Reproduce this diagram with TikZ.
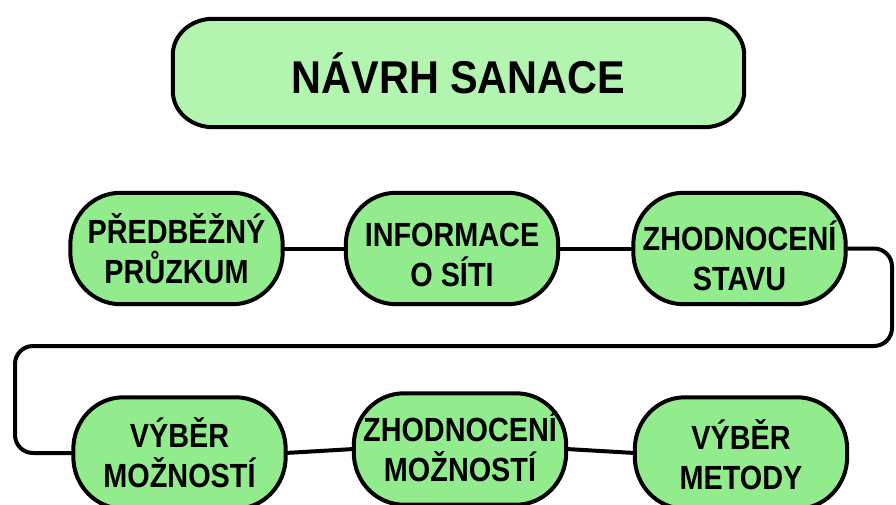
\documentclass[tikz,border=0pt]{standalone}
\usepackage{fontspec}
\usetikzlibrary{calc}
\newfontfamily\titlefont{Liberation Sans}[FakeStretch=0.9]
\newfontfamily\boxfont{Liberation Sans}[FakeStretch=0.86]
\definecolor{titlefill}{HTML}{B3F5B0}
\definecolor{boxfill}{HTML}{92EC8E}
\pgfdeclarelayer{background}
\pgfsetlayers{background,main}
% #1 node, #2 x radius, #3 y radius, #4 fill, #5 vertical offset of the outline
\newcommand\myroundbox[5]{%
  \begin{pgfonlayer}{background}
  \draw[line width=4pt, fill=#4] let \p1=([yshift=#5]#1.south west), \p2=([yshift=#5]#1.north east) in
    (\x1+#2,\y1) -- (\x2-#2,\y1) arc[start angle=-90,end angle=0,x radius=#2,y radius=#3]
    -- (\x2,\y2-#3) arc[start angle=0,end angle=90,x radius=#2,y radius=#3]
    -- (\x1+#2,\y2) arc[start angle=90,end angle=180,x radius=#2,y radius=#3]
    -- (\x1,\y1+#3) arc[start angle=180,end angle=270,x radius=#2,y radius=#3] -- cycle;
  \end{pgfonlayer}}
\begin{document}
\begin{tikzpicture}[x=1pt,y=1pt,
  stepbox/.style={minimum width=212pt, minimum height=111pt, align=center, inner sep=0pt,
    font=\boxfont\bfseries\fontsize{33.5}{40}\selectfont},
  titlebox/.style={minimum width=571pt, minimum height=108pt, align=center, inner sep=0pt,
    font=\titlefont\bfseries\fontsize{46}{50}\selectfont},
  link/.style={draw=black, line width=4pt}]
\clip (0,0) rectangle (896,504);
\begin{pgfonlayer}{background}
\fill[white] (0,0) rectangle (896,504);
\end{pgfonlayer}
\node[titlebox] (t) at (458.5,431) {NÁVRH SANACE};
\node[stepbox] (b1) at (176.5,255) {PŘEDBĚŽNÝ\\PRŮZKUM};
\node[stepbox] (b2) at (452,249) {INFORMACE\\O SÍTI};
\node[stepbox] (b3) at (739.5,248) {ZHODNOCENÍ\\STAVU};
\node[stepbox] (b4) at (179.5,51) {VÝBĚR\\MOŽNOSTÍ};
\node[stepbox] (b5) at (460,57) {ZHODNOCENÍ\\MOŽNOSTÍ};
\node[stepbox] (b6) at (741,49.5) {VÝBĚR\\METODY};
\coordinate (cr) at (892,158);
\coordinate (cl) at (15,158);
\begin{pgfonlayer}{background}
\draw[link] ([yshift=0.5pt]b1.east) -- ([yshift=6.5pt]b2.west);
\draw[link] ([yshift=6.5pt]b2.east) -- ([yshift=7.5pt]b3.west);
\draw[link, rounded corners=18pt] ([yshift=7.5pt]b3.east) -| (cr) -- (cl) |- (b4.west);
\draw[link] (b4.east) -- ([yshift=-2pt]b5.west);
\draw[link] ([yshift=-2pt]b5.east) -- ([yshift=1.5pt]b6.west);
\end{pgfonlayer}
\myroundbox{t}{40pt}{36pt}{titlefill}{0pt}
\myroundbox{b1}{50pt}{52pt}{boxfill}{0.5pt}
\myroundbox{b2}{50pt}{52pt}{boxfill}{6.5pt}
\myroundbox{b3}{50pt}{52pt}{boxfill}{7.5pt}
\myroundbox{b4}{50pt}{52pt}{boxfill}{0pt}
\myroundbox{b5}{50pt}{52pt}{boxfill}{-2pt}
\myroundbox{b6}{50pt}{52pt}{boxfill}{1.5pt}
\end{tikzpicture}
\end{document}
